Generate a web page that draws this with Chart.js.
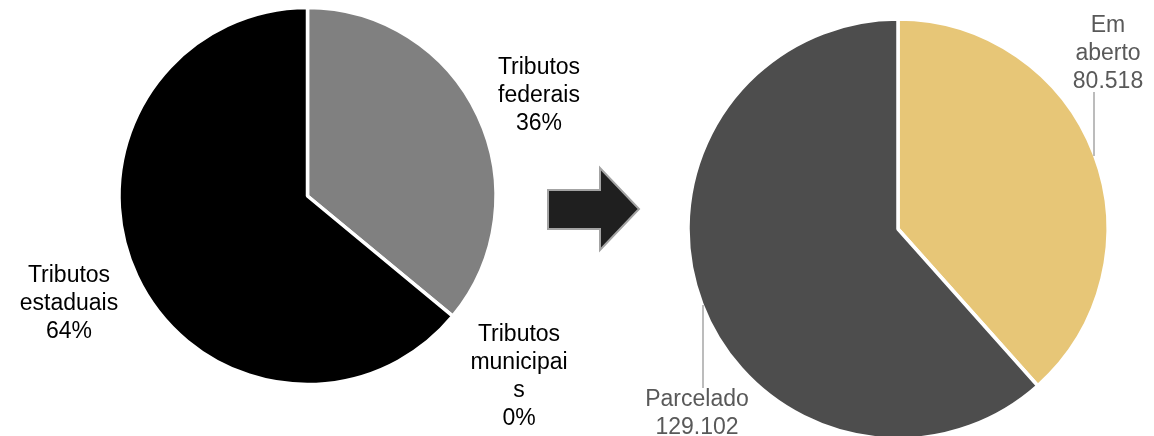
<!DOCTYPE html>
<html>
<head>
<meta charset="utf-8">
<script src="https://cdn.jsdelivr.net/npm/chart.js@4/dist/chart.umd.min.js"></script>
<style>
  html, body { margin: 0; padding: 0; background: #ffffff; }
  #wrap { position: relative; width: 1154px; height: 436px; overflow: hidden; }
  #wrap canvas { position: absolute; left: 0; top: 0; }
</style>
</head>
<body>
<div id="wrap">
  <canvas id="left" width="1154" height="436"></canvas>
  <canvas id="right" width="1154" height="436"></canvas>
</div>
<script>
// ---------- DATA ----------
const leftCategories = ['Tributos federais', 'Tributos municipais', 'Tributos estaduais'];
const leftLabelLines = [['Tributos', 'federais'], ['Tributos', 'municipai', 's'], ['Tributos', 'estaduais']];
const leftValues = [36, 0, 64];          // percent
const leftColors = ['#808080', '#a6a6a6', '#000000'];

const rightCategories = ['Em aberto', 'Parcelado'];
const rightLabelLines = [['Em', 'aberto'], ['Parcelado']];
const rightValues = [80518, 129102];
const rightColors = ['#E7C677', '#4D4D4D'];

// ---------- helpers ----------
function fmtThousands(v) {
  const s = String(Math.round(v));
  return s.replace(/\B(?=(\d{3})+(?!\d))/g, '.');
}

const FONT = '23px "Liberation Sans", Arial, sans-serif';
const LINE_H = 28;

// label layout (positions kept separate from data)
const leftLabelPos = [
  { x: 539, y: 74 },
  { x: 519, y: 341 },
  { x: 69,  y: 282 }
];
const rightLabelPos = [
  { x: 1108, y: 32, leader: [1094, 92, 1094, 156] },
  { x: 697,  y: 406, leader: [703, 305, 703, 388] }
];

const labelPlugin = {
  id: 'pieLabels',
  afterDraw(chart, args, opts) {
    const ctx = chart.ctx;
    ctx.save();
    ctx.font = FONT;
    ctx.textAlign = 'center';
    ctx.textBaseline = 'alphabetic';
    const lines = opts.lines;
    const vals = chart.data.datasets[0].data;
    opts.pos.forEach((p, i) => {
      if (p.leader) {
        ctx.strokeStyle = '#a6a6a6';
        ctx.lineWidth = 1.5;
        ctx.beginPath();
        ctx.moveTo(p.leader[0], p.leader[1]);
        ctx.lineTo(p.leader[2], p.leader[3]);
        ctx.stroke();
      }
      const all = lines[i].concat([opts.format(vals[i])]);
      ctx.fillStyle = opts.color;
      all.forEach((t, k) => ctx.fillText(t, p.x, p.y + k * LINE_H));
    });
    ctx.restore();
  }
};

const arrowPlugin = {
  id: 'arrow',
  afterDraw(chart) {
    const ctx = chart.ctx;
    ctx.save();
    ctx.beginPath();
    ctx.moveTo(548, 190);
    ctx.lineTo(600, 190);
    ctx.lineTo(600, 168);
    ctx.lineTo(639, 209);
    ctx.lineTo(600, 250);
    ctx.lineTo(600, 229);
    ctx.lineTo(548, 229);
    ctx.closePath();
    ctx.fillStyle = '#1f1f1f';
    ctx.fill();
    ctx.strokeStyle = '#a3a3a3';
    ctx.lineWidth = 2;
    ctx.stroke();
    ctx.restore();
  }
};

const baseOpts = {
  responsive: false,
  animation: false,
  events: [],
  plugins: { legend: { display: false }, tooltip: { enabled: false } }
};

new Chart(document.getElementById('left'), {
  type: 'pie',
  data: {
    labels: leftCategories,
    datasets: [{
      data: leftValues,
      backgroundColor: leftColors,
      borderColor: '#ffffff',
      borderWidth: 3.5,
      radius: 188.5
    }]
  },
  options: Object.assign({}, baseOpts, {
    layout: { padding: { left: 0, right: 539, top: 0, bottom: 44 } },
    plugins: Object.assign({}, baseOpts.plugins, {
      pieLabels: {
        lines: leftLabelLines,
        pos: leftLabelPos,
        color: '#000000',
        format: v => v + '%'
      }
    })
  }),
  plugins: [labelPlugin, arrowPlugin]
});

new Chart(document.getElementById('right'), {
  type: 'pie',
  data: {
    labels: rightCategories,
    datasets: [{
      data: rightValues,
      backgroundColor: rightColors,
      borderColor: '#ffffff',
      borderWidth: 3.5,
      radius: 210
    }]
  },
  options: Object.assign({}, baseOpts, {
    layout: { padding: { left: 642, right: 0, top: 22, bottom: 0 } },
    plugins: Object.assign({}, baseOpts.plugins, {
      pieLabels: {
        lines: rightLabelLines,
        pos: rightLabelPos,
        color: '#595959',
        format: v => fmtThousands(v)
      }
    })
  }),
  plugins: [labelPlugin]
});
</script>
</body>
</html>
